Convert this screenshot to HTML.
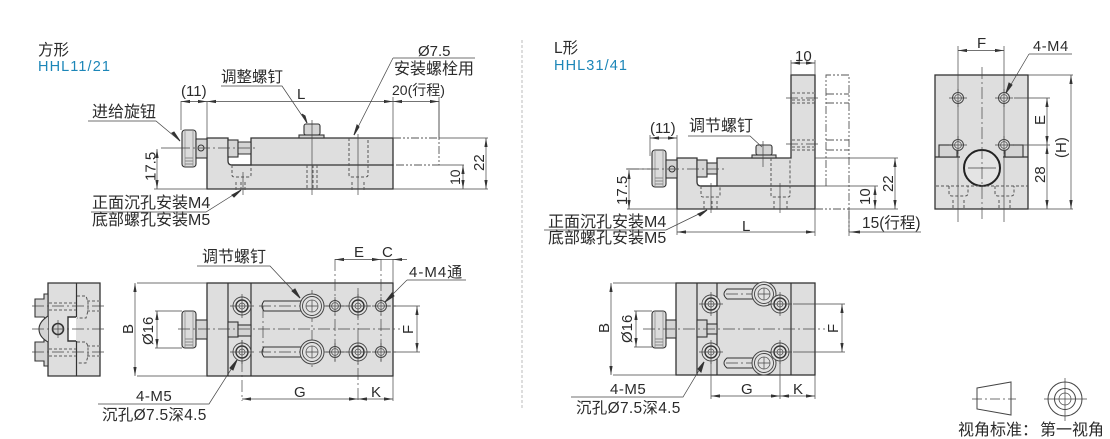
<!DOCTYPE html>
<html><head><meta charset="utf-8">
<style>
html,body{margin:0;padding:0;background:#fff;width:1110px;height:439px;overflow:hidden}
svg{display:block}
text{font-family:"Liberation Sans","Noto Sans CJK SC",sans-serif;font-size:15px;fill:#2b2b2b}
.z{font-size:16px}
.b{fill:#dedede;stroke:#333;stroke-width:1.3}
.n{fill:#d4d4d4;stroke:#333;stroke-width:1.1}
.t{fill:none;stroke:#444;stroke-width:.7}
.c{fill:none;stroke:#444;stroke-width:.7;stroke-dasharray:12 3 2 3}
.d{fill:none;stroke:#555;stroke-width:1;stroke-dasharray:3 2}
.dd{fill:none;stroke:#888;stroke-width:1.6;stroke-dasharray:3 2}
.g{fill:none;stroke:#555;stroke-width:.9;stroke-dasharray:8 2 2 2 2 2}
.a{fill:none;stroke:#444;stroke-width:.7;marker-start:url(#s);marker-end:url(#e)}
.r{fill:none;stroke:#333;stroke-width:1}
.l{fill:none;stroke:#333;stroke-width:1.2}
</style></head><body>
<svg width="1110" height="439" viewBox="0 0 1110 439" xmlns="http://www.w3.org/2000/svg">
<defs>
<marker id="e" markerWidth="10" markerHeight="6" refX="9" refY="2.5" orient="auto" markerUnits="userSpaceOnUse"><path d="M0 .9L9 2.5L0 4.1Z" fill="#333"/></marker>
<marker id="s" markerWidth="10" markerHeight="6" refX="0" refY="2.5" orient="auto" markerUnits="userSpaceOnUse"><path d="M9 .9L0 2.5L9 4.1Z" fill="#333"/></marker>
<g id="sm"><circle r="5.5" fill="#e2e2e2" stroke="#444" stroke-width="1"/><circle r="3.4" fill="none" stroke="#555" stroke-width=".8"/><path d="M-9 0H9M0-9V9" class="t"/></g>
<g id="md"><circle r="9" fill="#e2e2e2" stroke="#444" stroke-width=".9"/><circle r="6" fill="none" stroke="#333" stroke-width="1.4"/><circle r="3" fill="none" stroke="#555" stroke-width=".8"/><path d="M-12 0H12M0-12V12" class="t"/></g>
<g id="lg"><circle r="12" fill="#e2e2e2" stroke="#444" stroke-width="1"/><circle r="9.5" fill="none" stroke="#444" stroke-width=".9"/><circle r="6" fill="none" stroke="#555" stroke-width=".8"/><path d="M-6 0H6M0-6V6" class="t"/></g>
<g id="knob"><rect x="0" y="0" width="14" height="37" rx="3" fill="#dcdcdc" stroke="#333" stroke-width="1.1"/><path d="M3 1V36M11 1V36" stroke="#777" stroke-width=".6"/><path d="M3 28H11M3 31H11M3 34H11" stroke="#888" stroke-width=".9"/></g>
</defs>

<path d="M522 40V410" stroke="#bbb" stroke-width="1" stroke-dasharray="3 2" fill="none"/>

<!-- titles -->
<text x="38" y="55" style="font-size:15.500px">方形</text>
<text x="38" y="71" style="font-size:14.500px;letter-spacing:1.1px;fill:#1c86b8">HHL11/21</text>
<text x="554" y="53" style="font-size:15.500px">L形</text>
<text x="554" y="70" style="font-size:14.500px;letter-spacing:1.1px;fill:#1c86b8">HHL31/41</text>

<!-- ===== left front view ===== -->
<path class="b" d="M207 138H228V161Q228 165 232 165H251V138H393V189H207Z"/>
<path class="l" d="M232 165H393"/>
<g transform="translate(182,130)"><use href="#knob"/></g>
<rect x="196" y="139" width="11" height="19" class="n"/>
<circle cx="201" cy="148" r="3" class="r"/>
<rect x="228" y="140" width="10" height="17" class="n"/>
<rect x="238" y="142" width="13" height="12" class="n" rx="1"/>
<rect x="304" y="124" width="16" height="11" rx="2" class="n"/>
<rect x="299" y="135" width="25" height="3" class="n"/>
<path class="c" d="M178 148H256"/>
<path class="d" d="M232 165V175Q232 177 235 177H248Q251 177 251 175V165"/>
<path class="d" d="M236 182V190M241 182V190M245 182V190M307 165V190M313 165V190M317 165V190"/>
<path class="d" d="M349 138V175Q349 177 352 177H365Q368 177 368 175V138M352 182V190M364 182V190"/>
<path class="t" d="M312 120V195M358 134V195M243 172V195"/>
<path class="g" d="M393 138H439V165H393"/>
<path class="t" d="M439 138H488M439 101V138M439 165H464M393 189H488M154 189H207M161 148H178"/>
<path class="t" d="M181 101V130M207 101V138M393 97V138M439 97V138"/>
<path class="a" d="M181 101.500H207"/><path class="a" d="M207 101.500H393"/><path class="a" d="M393 101.500H439"/>
<path class="a" d="M486 138V189"/><path class="a" d="M463 165V189"/><path class="a" d="M157 149V189"/>
<text x="181" y="96">(11)</text>
<text x="297" y="99">L</text>
<text x="392" y="95" style="font-size:14px">20(行程)</text>
<text x="221" y="82" class="z" style="font-size:15.500px">调整螺钉</text>
<path class="t" d="M221 86H282L307 123"/><path d="M302 114L307 123L305 116Z" fill="#333" stroke="#333"/>
<text x="418" y="56">Ø7.5</text><text x="394" y="74" class="z">安装螺栓用</text>
<path class="t" d="M393 58H475M393 58L354 135"/><path d="M357 125L354 135L359 127Z" fill="#333" stroke="#333"/>
<text x="92" y="117" class="z">进给旋钮</text>
<path class="t" d="M88 121H156L180 141"/><path d="M172 133L180 141L174 132Z" fill="#333" stroke="#333"/>
<text transform="translate(155.500,181) rotate(-90)">17.5</text>
<text transform="translate(484,171) rotate(-90)">22</text>
<text transform="translate(460,185) rotate(-90)" style="font-size:14px">10</text>
<text x="92" y="208" class="z">正面沉孔安装M4</text>
<text x="92" y="225" class="z">底部螺孔安装M5</text>
<path class="t" d="M91 212H206L241 190"/><path d="M232 195L241 190L234 197Z" fill="#333" stroke="#333"/>

<!-- ===== side view left ===== -->
<path class="b" d="M48 283H100V376H48Z"/>
<path d="M76.500 283V317M76.500 341V376" stroke="#333" stroke-width="1.2"/>
<path d="M76 317H68V341H76" fill="#fff" stroke="#333" stroke-width="1.4"/>
<path class="n" d="M44 294H48V323L44 317H35V299H44Z"/>
<path class="n" d="M44 340L48 336V366H44V361H35V342H44Z"/>
<path d="M48 316Q39 322 39 329Q39 337 48 342" class="n"/>
<circle cx="58" cy="329" r="5.500" fill="#d0d0d0" stroke="#333" stroke-width="1.6"/>
<path class="t" d="M58 320V338"/>
<path class="c" d="M32 306H105M32 352H105M32 329H105"/>
<path class="dd" d="M49 303H76M49 310H76M49 349H76M49 356H76M87 301H100M87 311H100M87 346H100M87 356H100"/>
<path class="d" d="M77 296H86L88 302V311L86 318H77M77 342H86L88 346V356L86 363H77"/>

<!-- ===== left top view ===== -->
<rect x="207" y="283" width="186" height="93" class="b"/>
<path d="M228 283V376M251 283V376" stroke="#333" stroke-width="1.2"/>
<g transform="translate(182,311)"><use href="#knob"/></g>
<rect x="196" y="320" width="11" height="19" class="n"/>
<rect x="228" y="322" width="10" height="15" class="n"/>
<rect x="238" y="325" width="13" height="11" class="n"/>
<path class="r" d="M302 301H264Q260 306 264 311H302M302 347H264Q260 352 264 357H302"/>
<path class="c" d="M178 329H400"/>
<path class="c" d="M259 306H396M259 352H396"/>
<path class="c" d="M263 306V352M312 290V368M335 259V362M358 288V401M381 259V362M242 340V401"/>
<g transform="translate(242,306)"><use href="#md"/></g><g transform="translate(242,352)"><use href="#md"/></g>
<g transform="translate(312,306)"><use href="#lg"/></g><g transform="translate(312,352)"><use href="#lg"/></g>
<g transform="translate(335,306)"><use href="#sm"/></g><g transform="translate(335,352)"><use href="#sm"/></g>
<g transform="translate(358,306)"><use href="#md"/></g><g transform="translate(358,352)"><use href="#md"/></g>
<g transform="translate(381,306)"><use href="#sm"/></g><g transform="translate(381,352)"><use href="#sm"/></g>
<path class="t" d="M393 259V283M393 376V401M137 283H207M137 376H207M155 311H182M155 348H182M393 306H420M393 352H420"/>
<path class="a" d="M335 259.500H381"/><path class="t" d="M381 259.500H407"/><path d="M393 259.500L402 258V261Z" fill="#333"/>
<path class="a" d="M135 283V376"/><path class="a" d="M157 311V348"/><path class="a" d="M417 306V352"/>
<path class="a" d="M242 399H358"/><path class="a" d="M358 399H393"/>
<text x="354" y="257">E</text><text x="382" y="257">C</text>
<text transform="translate(133,334) rotate(-90)">B</text>
<text transform="translate(153,345) rotate(-90)">Ø16</text>
<text transform="translate(413,334) rotate(-90)">F</text>
<text x="294" y="397">G</text><text x="371" y="397">K</text>
<text x="409" y="277" style="font-size:15px;letter-spacing:1px">4-M4通</text>
<path class="t" d="M407 280H466M407 280L385 302"/><path d="M392 293L385 302L394 296Z" fill="#333" stroke="#333"/>
<text x="202" y="262" class="z">调节螺钉</text>
<path class="t" d="M197 266H270L300 298"/><path d="M292 291L300 298L295 289Z" fill="#333" stroke="#333"/>
<text x="136" y="401" style="letter-spacing:.5px">4-M5</text>
<text x="102" y="420" style="font-size:15.500px;letter-spacing:.3px">沉孔Ø7.5深4.5</text>
<path class="t" d="M98 404H209L237 360"/><path d="M230 368L237 360L233 370Z" fill="#333" stroke="#333"/>

<!-- ===== L front view ===== -->
<path class="b" d="M677 158H697V182Q697 186 701 186H717V158H791V75H815V209H677Z"/>
<path class="l" d="M701 186H815"/>
<g transform="translate(652,150)"><use href="#knob"/></g>
<rect x="666" y="160" width="11" height="18" class="n"/><circle cx="672" cy="169" r="3" class="r"/>
<rect x="697" y="160" width="10" height="17" class="n"/>
<rect x="707" y="163" width="10" height="11" class="n"/>
<rect x="756" y="145" width="16" height="10" rx="2" class="n"/>
<rect x="752" y="155" width="24" height="3" class="n"/>
<path class="c" d="M627 169H727"/>
<path class="d" d="M701 186V195Q701 197 703 197H718Q720 197 720 195V186M704 201V209M712 201V209M717 201V209"/>
<path class="d" d="M771 158V195Q771 197 773 197H788Q790 197 790 195V158M774 201V209M787 201V209"/>
<path class="t" d="M711 183V213M780 183V213M763 141V167"/>
<path class="dd" d="M792 93H815M792 100H815M792 140H815M792 147H815"/>
<path class="c" d="M786 98H820M786 144H820"/>
<path class="d" d="M792 103H815M792 150H815"/>
<path class="g" d="M826 186V75H849V232"/>
<path class="g" d="M826 94H849M826 103H849M826 140H849M826 150H849" stroke-width="1.2"/>
<path class="g" d="M815 209H849"/>
<path class="t" d="M815 158H898M815 186H878M849 209H898M627 209H677M626 169H650"/>
<path class="t" d="M650 135V156M677 135V158M791 60V75M815 60V75M677 209V235M815 209V236M849 209V236"/>
<path class="a" d="M650 138H677"/><path class="a" d="M791 63H815"/><path class="a" d="M895 158V209"/><path class="a" d="M875 186V209"/><path class="a" d="M629 170V209"/><path class="a" d="M677 232H815"/>
<path class="t" d="M849 232H921"/><path d="M849 232L860 230.500V233.500Z" fill="#333"/>
<text x="650" y="133">(11)</text><text x="795" y="61">10</text>
<text x="689" y="131" class="z">调节螺钉</text>
<path class="t" d="M688 136H750L762 147"/>
<text transform="translate(627,205) rotate(-90)">17.5</text>
<text transform="translate(893,192) rotate(-90)">22</text>
<text transform="translate(870,205) rotate(-90)">10</text>
<text x="742" y="231">L</text>
<text x="862" y="228" style="font-size:15.500px">15(行程)</text>
<text x="548" y="227" class="z">正面沉孔安装M4</text>
<text x="548" y="243" class="z">底部螺孔安装M5</text>
<path class="t" d="M544 230H666L707 210"/><path d="M698 214L707 210L700 216Z" fill="#333" stroke="#333"/>

<!-- ===== L top view ===== -->
<rect x="676" y="283" width="139" height="92" class="b"/>
<path d="M697 283V375M717 283V375M791 283V375" stroke="#333" stroke-width="1.2"/>
<g transform="translate(652,311)"><use href="#knob"/></g>
<rect x="666" y="320" width="10" height="18" class="n"/>
<rect x="697" y="320" width="10" height="17" class="n"/>
<rect x="707" y="324" width="10" height="10" class="n"/>
<path class="r" d="M755 289H727Q721 294 727 299H755M755 358H727Q721 363 727 368H755"/>
<path class="c" d="M643 329H825"/>
<path class="c" d="M726 294H776M726 363H776"/>
<g transform="translate(711,304)"><use href="#md"/></g><g transform="translate(711,352)"><use href="#md"/></g>
<g transform="translate(764,294)"><use href="#lg"/></g><g transform="translate(764,363)"><use href="#lg"/></g>
<g transform="translate(780,304)"><use href="#md"/></g><g transform="translate(780,352)"><use href="#md"/></g>
<path class="t" d="M793 304H845M793 352H845M613 283H676M613 375H676M634 311H652M634 347H652M711 362V399M780 362V399M815 375V399"/>
<path class="a" d="M611 283V375"/><path class="a" d="M636 311V347"/><path class="a" d="M842 304V352"/>
<path class="a" d="M711 396H780"/><path class="a" d="M780 396H815"/>
<text transform="translate(609,333) rotate(-90)">B</text>
<text transform="translate(632,343) rotate(-90)">Ø16</text>
<text transform="translate(838,333) rotate(-90)">F</text>
<text x="741" y="394">G</text><text x="793" y="394">K</text>
<text x="610" y="394" style="letter-spacing:.5px">4-M5</text>
<text x="576" y="413" style="font-size:15.500px;letter-spacing:.3px">沉孔Ø7.5深4.5</text>
<path class="t" d="M571 397H683L704 362"/><path d="M698 369L704 362L701 372Z" fill="#333" stroke="#333"/>

<!-- ===== L side view ===== -->
<rect x="935" y="75" width="93" height="134" class="b"/>
<path d="M935 157H960M1003 157H1028" stroke="#333" stroke-width="1.2"/>
<rect x="939" y="145" width="18" height="12" class="n"/>
<rect x="1005" y="145" width="18" height="12" class="n"/>
<circle cx="982" cy="168" r="18" fill="#e4e4e4" stroke="#222" stroke-width="2"/>
<path class="c" d="M982 67V220"/><path class="t" d="M968 168H996M958 46V222M1004 46V222"/>
<g transform="translate(958,98)"><use href="#sm"/></g><g transform="translate(1004,98)"><use href="#sm"/></g>
<g transform="translate(958,145)"><use href="#sm"/></g><g transform="translate(1004,145)"><use href="#sm"/></g>
<path class="d" d="M936 186H1028M949 186V193Q949 196 952 196H965Q968 196 968 193V186M995 186V193Q995 196 998 196H1011Q1014 196 1014 193V186M953 200V209M964 200V209M999 200V209M1010 200V209"/>
<path class="t" d="M1028 75H1073M1014 98H1050M1014 145H1050M1028 209H1073"/>
<path class="a" d="M958 50.500H1004"/><path class="a" d="M1047 98V145"/><path class="a" d="M1047 145V209"/><path class="a" d="M1071 75V209"/>
<text x="977" y="48">F</text>
<text x="1033" y="51" style="font-size:14.500px;letter-spacing:.7px">4-M4</text>
<path class="t" d="M1029 54H1072M1029 54L1006 93"/><path d="M1012 85L1006 93L1009 83Z" fill="#333" stroke="#333"/>
<text transform="translate(1045,125) rotate(-90)">E</text>
<text transform="translate(1045,183) rotate(-90)">28</text>
<text transform="translate(1066,158) rotate(-90)">(H)</text>

<!-- ===== view symbol ===== -->
<path d="M977 388L1011 382V415L977 409Z" fill="none" stroke="#444" stroke-width="1"/>
<path class="c" d="M972 399H1016" style="stroke-dasharray:10 3 2 3"/>
<circle cx="1065" cy="399" r="17" fill="none" stroke="#444" stroke-width="1"/><circle cx="1065" cy="399" r="10.500" fill="none" stroke="#444" stroke-width="1"/><circle cx="1065" cy="399" r="6" class="t"/>
<path class="t" d="M1044 399H1087M1065 378V421"/>
<text x="958" y="435" class="z">视角标准：</text><text x="1040" y="435" class="z">第一视角</text>
</svg>
</body></html>
